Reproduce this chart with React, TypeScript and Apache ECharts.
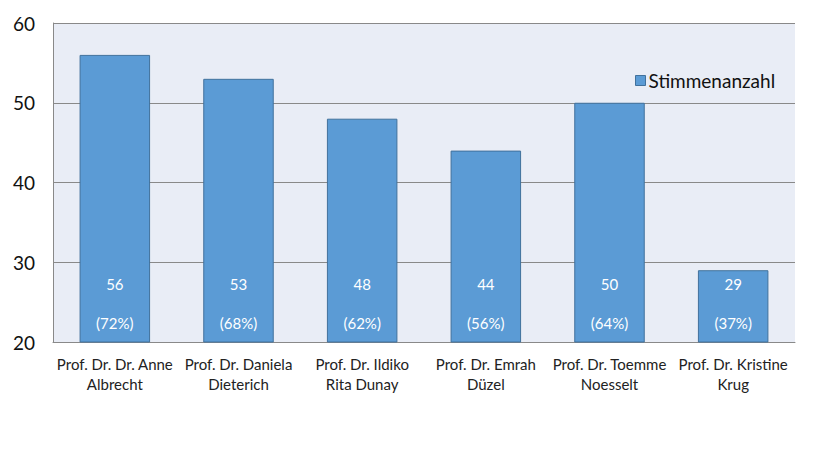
import React, { useEffect, useRef } from "react";
import * as echarts from "echarts";

const categories = [
  "Prof. Dr. Dr. Anne\nAlbrecht",
  "Prof. Dr. Daniela\nDieterich",
  "Prof. Dr. Ildiko\nRita Dunay",
  "Prof. Dr. Emrah\nDüzel",
  "Prof. Dr. Toemme\nNoesselt",
  "Prof. Dr. Kristine\nKrug",
];
const votes = [56, 53, 48, 44, 50, 29];
const percents = [72, 68, 62, 56, 64, 37];
const seriesName = "Stimmenanzahl";

const FONT = "Lato, 'Open Sans', sans-serif";

export default function App() {
  const ref = useRef<HTMLDivElement>(null);

  useEffect(() => {
    document.body.style.margin = "0";
    if (!ref.current) return;
    const chart = echarts.init(ref.current, null, { renderer: "svg" });
    chart.setOption({
      animation: false,
      textStyle: { fontFamily: FONT },
      grid: {
        left: 53,
        top: 23,
        right: 22,
        bottom: 115,
        show: true,
        backgroundColor: "#E9EDF6",
        borderWidth: 0,
      },
      legend: {
        left: 630,
        top: 66,
        itemWidth: 10,
        itemHeight: 10,
        icon: "rect",
        itemStyle: { borderColor: "#41719C", borderWidth: 1 },
        textStyle: { fontFamily: FONT, fontSize: 19, color: "#111", padding: [0, 0, 0, -2] },
        data: [seriesName],
      },
      xAxis: {
        type: "category",
        data: categories,
        axisLine: { show: true, lineStyle: { color: "#898989" } },
        axisTick: { show: false },
        axisLabel: {
          interval: 0,
          margin: 12,
          color: "#222",
          fontSize: 15,
          lineHeight: 20,
          fontFamily: FONT,
        },
      },
      yAxis: {
        type: "value",
        min: 20,
        max: 60,
        interval: 10,
        axisLine: { show: true, lineStyle: { color: "#898989" } },
        axisTick: { show: false },
        splitLine: { lineStyle: { color: "#898989", width: 1 } },
        axisLabel: { color: "#111", fontSize: 19, margin: 18, fontFamily: FONT },
      },
      series: [
        {
          name: seriesName,
          type: "bar",
          data: votes,
          barWidth: "57%",
          itemStyle: { color: "#5B9BD5", borderColor: "#41719C", borderWidth: 1 },
          label: {
            show: true,
            position: "insideBottom",
            distance: 10,
            color: "#fff",
            fontSize: 15,
            lineHeight: 19.5,
            fontFamily: FONT,
            formatter: (p: any) => `${p.value}\n\n(${percents[p.dataIndex]}%)`,
          },
        },
      ],
    });
    return () => chart.dispose();
  }, []);

  return <div ref={ref} style={{ width: 817, height: 457 }} />;
}
